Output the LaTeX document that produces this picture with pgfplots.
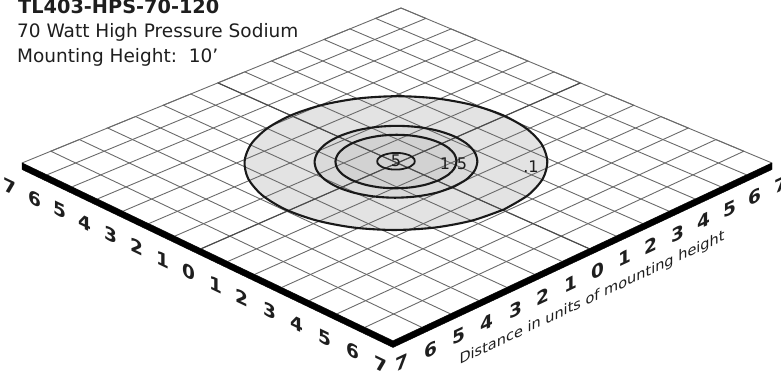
\documentclass[border=0pt]{standalone}
\usepackage{fontspec}
\setmainfont{DejaVu Sans}
\usepackage{pgfplots}
\pgfplotsset{compat=1.18}
\usepackage{pgfplotstable}
\definecolor{gridc}{HTML}{6A6A6A}
\definecolor{cenc}{HTML}{4A4A4A}
\definecolor{fillA}{HTML}{E3E3E3}
\definecolor{fillB}{HTML}{DADADA}
\definecolor{fillC}{HTML}{D2D2D2}
\definecolor{txt}{HTML}{1E1E1E}
% perspective map of the ground grid (u,v in mounting heights) to the picture
\newcommand\Dn[2]{(1.00074-0.004884*(#1)+0.00499*(#2))}
\newcommand\PX[2]{((24.581*(#1)+29.072*(#2)+397.57)/\Dn{#1}{#2})}
\newcommand\PY[2]{(375-(11.049*(#1)-11.031*(#2)+163.12)/\Dn{#1}{#2})}
\pgfplotstableread{
u v
-7 -7
-7 7
-6 7
-6 -7
-5 -7
-5 7
-4 7
-4 -7
-3 -7
-3 7
-2 7
-2 -7
-1 -7
-1 7
0 7
0 -7
1 -7
1 7
2 7
2 -7
3 -7
3 7
4 7
4 -7
5 -7
5 7
6 7
6 -7
7 -7
7 7
}\ulines
\pgfplotstableread{
u v
-7 -7
7 -7
7 -6
-7 -6
-7 -5
7 -5
7 -4
-7 -4
-7 -3
7 -3
7 -2
-7 -2
-7 -1
7 -1
7 0
-7 0
-7 1
7 1
7 2
-7 2
-7 3
7 3
7 4
-7 4
-7 5
7 5
7 6
-7 6
-7 7
7 7
}\vlines
% isolux contour .1 fc
\pgfplotstableread{
u v
4.000 0.000
3.864 1.035
3.464 2.000
2.828 2.828
2.000 3.464
1.035 3.864
0.000 4.000
-1.035 3.864
-2.000 3.464
-2.828 2.828
-3.464 2.000
-3.864 1.035
-4.000 0.000
-3.864 -1.035
-3.464 -2.000
-2.828 -2.828
-2.000 -3.464
-1.035 -3.864
0.000 -4.000
1.035 -3.864
2.000 -3.464
2.828 -2.828
3.464 -2.000
3.864 -1.035
4.000 0.000
}\cA
% isolux contour .5 fc
\pgfplotstableread{
u v
2.150 0.000
2.077 0.556
1.862 1.075
1.520 1.520
1.075 1.862
0.556 2.077
0.000 2.150
-0.556 2.077
-1.075 1.862
-1.520 1.520
-1.862 1.075
-2.077 0.556
-2.150 0.000
-2.077 -0.556
-1.862 -1.075
-1.520 -1.520
-1.075 -1.862
-0.556 -2.077
0.000 -2.150
0.556 -2.077
1.075 -1.862
1.520 -1.520
1.862 -1.075
2.077 -0.556
2.150 0.000
}\cB
% isolux contour 1 fc
\pgfplotstableread{
u v
1.600 0.000
1.545 0.414
1.386 0.800
1.131 1.131
0.800 1.386
0.414 1.545
0.000 1.600
-0.414 1.545
-0.800 1.386
-1.131 1.131
-1.386 0.800
-1.545 0.414
-1.600 0.000
-1.545 -0.414
-1.386 -0.800
-1.131 -1.131
-0.800 -1.386
-0.414 -1.545
0.000 -1.600
0.414 -1.545
0.800 -1.386
1.131 -1.131
1.386 -0.800
1.545 -0.414
1.600 0.000
}\cC
% isolux contour 5 fc
\pgfplotstableread{
u v
0.500 0.000
0.433 0.250
0.250 0.433
0.000 0.500
-0.250 0.433
-0.433 0.250
-0.500 0.000
-0.433 -0.250
-0.250 -0.433
0.000 -0.500
0.250 -0.433
0.433 -0.250
0.500 0.000
}\cD
\pgfplotsset{
  table/gt/.style={/pgfplots/table/x expr={\PX{\thisrow{u}}{\thisrow{v}}}, /pgfplots/table/y expr={\PY{\thisrow{u}}{\thisrow{v}}}},
  table/ct/.style={/pgfplots/table/x expr={\PX{\thisrow{u}-0.1}{\thisrow{v}+0.05}}, /pgfplots/table/y expr={\PY{\thisrow{u}-0.1}{\thisrow{v}+0.05}}},
}
\tikzset{
  ll/.style={xshift=-12pt, yshift=-23.5pt, yslant=-0.48, anchor=center, inner sep=0pt, text=txt, font=\bfseries\fontsize{18.5}{18.5}\selectfont},
  rl/.style={xshift=8.5pt, yshift=-22pt, yslant=0.47, anchor=center, inner sep=0pt, text=txt, font=\bfseries\fontsize{18.5}{18.5}\selectfont},
  cl/.style={anchor=center, inner sep=0pt, text=txt, font=\fontsize{16}{16}\selectfont},
}
\begin{document}
\begin{tikzpicture}
\begin{axis}[
  at={(0pt,0pt)}, anchor=south west,
  x=1pt, y=1pt, xmin=0, xmax=781, ymin=0, ymax=375,
  hide axis, clip=false,
]
% shaded isolux areas
\addplot[draw=none, fill=fillA, smooth] table[ct] {\cA};
\addplot[draw=none, fill=fillB, smooth] table[ct] {\cB};
\addplot[draw=none, fill=fillC, smooth] table[ct] {\cC};
% grid
\addplot[gridc, line width=0.9pt] table[gt] {\ulines};
\addplot[gridc, line width=0.9pt] table[gt] {\vlines};
\addplot[cenc, line width=1.1pt] table[gt] {
u v
0 -7
0 7
};
\addplot[cenc, line width=1.1pt] table[gt] {
u v
-7 0
7 0
};
% slab edge
\addplot[fill=black, draw=black, line width=0.4pt] coordinates {
(22,212) (393,34) (772,212) (772,205.5) (393,27.5) (22,205.5)} -- cycle;
% contours
\addplot[black!90, line width=2.1pt, smooth] table[ct] {\cA};
\addplot[black!90, line width=2.1pt, smooth] table[ct] {\cB};
\addplot[black!90, line width=2.1pt, smooth] table[ct] {\cC};
\addplot[black!90, line width=1.8pt, smooth] table[ct] {\cD};
% contour labels
\node[cl] at (axis cs:396,214) {5};
\node[cl] at (axis cs:445,211) {1};
\node[cl] at (axis cs:459.5,211) {.5};
\node[cl] at (axis cs:531,208) {.1};
% left edge labels
\node[ll] at (axis cs:22,212) {7};
\node[ll] at (axis cs:46.8,200.1) {6};
\node[ll] at (axis cs:71.9,188.1) {5};
\node[ll] at (axis cs:97.2,175.9) {4};
\node[ll] at (axis cs:122.7,163.7) {3};
\node[ll] at (axis cs:148.5,151.3) {2};
\node[ll] at (axis cs:174.6,138.8) {1};
\node[ll] at (axis cs:200.9,126.2) {0};
\node[ll] at (axis cs:227.5,113.4) {1};
\node[ll] at (axis cs:254.4,100.5) {2};
\node[ll] at (axis cs:281.6,87.5) {3};
\node[ll] at (axis cs:309.0,74.3) {4};
\node[ll] at (axis cs:336.7,61.0) {5};
\node[ll] at (axis cs:364.7,47.6) {6};
\node[ll] at (axis cs:393.0,34.0) {7};
% right edge labels
\node[rl] at (axis cs:393.0,34.0) {7};
\node[rl] at (axis cs:422.0,47.6) {6};
\node[rl] at (axis cs:450.6,61.0) {5};
\node[rl] at (axis cs:478.9,74.4) {4};
\node[rl] at (axis cs:507.0,87.5) {3};
\node[rl] at (axis cs:534.7,100.6) {2};
\node[rl] at (axis cs:562.2,113.5) {1};
\node[rl] at (axis cs:589.4,126.2) {0};
\node[rl] at (axis cs:616.2,138.8) {1};
\node[rl] at (axis cs:642.9,151.4) {2};
\node[rl] at (axis cs:669.2,163.7) {3};
\node[rl] at (axis cs:695.3,176.0) {4};
\node[rl] at (axis cs:721.1,188.1) {5};
\node[rl] at (axis cs:746.7,200.1) {6};
\node[rl] at (axis cs:772,212) {7};
\node[anchor=center, inner sep=0pt, yslant=0.47, text=txt, font=\fontsize{14.5}{14.5}\selectfont] at (axis cs:592,76.5) {Distance in units of mounting height};
% header
\node[anchor=base west, inner sep=0pt, text=txt, font=\bfseries\fontsize{19.3}{19.3}\selectfont] at (axis cs:18,361.5) {TL403-HPS-70-120};
\node[anchor=base west, inner sep=0pt, text=txt, font=\fontsize{18.5}{18.5}\selectfont] at (axis cs:17,337.7) {70 Watt High Pressure Sodium};
\node[anchor=base west, inner sep=0pt, text=txt, font=\fontsize{18.5}{18.5}\selectfont] at (axis cs:17,312) {Mounting Height:\ \ 10’};
\end{axis}
\pgfresetboundingbox
\path (0pt,0pt) rectangle (781pt,375pt);
\end{tikzpicture}
\end{document}
